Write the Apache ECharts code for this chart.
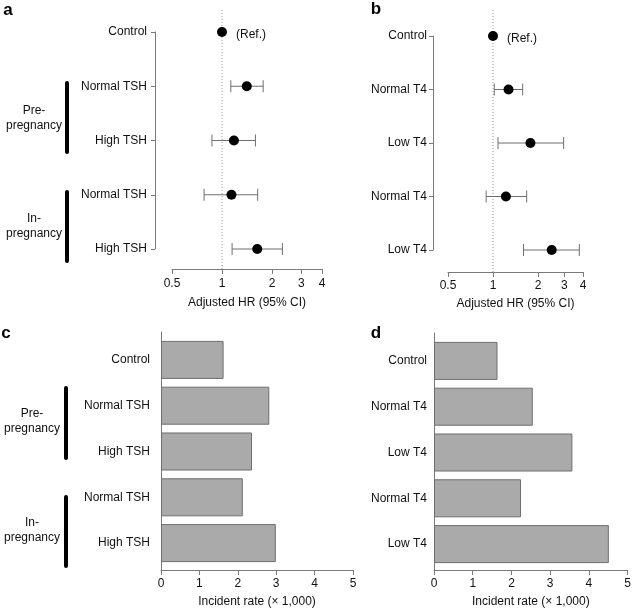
<!DOCTYPE html>
<html><head><meta charset="utf-8">
<script src="https://cdn.jsdelivr.net/npm/echarts@6/dist/echarts.min.js"></script>
<style>html,body{margin:0;padding:0;background:#fff}#c{width:634px;height:609px}</style>
</head><body><div id="c"></div>
<script>
// ---- data ----
const catsTSH = ['Control', 'Normal TSH', 'High TSH', 'Normal TSH', 'High TSH'];
const catsT4 = ['Control', 'Normal T4', 'Low T4', 'Normal T4', 'Low T4'];
const hrTSH = [1.00, 1.41, 1.18, 1.14, 1.63];
const loTSH = [null, 1.13, 0.87, 0.78, 1.15];
const hiTSH = [null, 1.77, 1.59, 1.64, 2.31];
const hrT4 = [1.00, 1.27, 1.78, 1.22, 2.47];
const loT4 = [null, 1.02, 1.08, 0.90, 1.60];
const hiT4 = [null, 1.58, 2.97, 1.68, 3.78];
const rateTSH = [1.63, 2.82, 2.37, 2.13, 2.99];
const rateT4 = [1.62, 2.52, 3.53, 2.22, 4.46];
const hrTicks = [0.5, 1, 2, 3, 4];
const hrMin = 0.5, hrMax = 4, hrRef = 1;
const rateMin = 0, rateMax = 5;
const groups = ['Pre-\npregnancy', 'In-\npregnancy'];
const panelLetters = ['a', 'b', 'c', 'd'];
const refLabel = '(Ref.)';
const hrTitle = 'Adjusted HR (95% CI)';
const rateTitle = 'Incident rate (× 1,000)';

// ---- styling ----
const FONT = "'Liberation Sans', Arial, sans-serif";
const TXT = '#111';
const AXC = '#7a7a7a';

const chart = echarts.init(document.getElementById('c'), null, {renderer: 'canvas'});

function errData(lo, hi) {
  const out = [];
  lo.forEach((v, i) => { if (v != null) out.push([v, hi[i], i]); });
  return out;
}
function errRender(params, api) {
  const a = api.coord([api.value(0), api.value(2)]);
  const b = api.coord([api.value(1), api.value(2)]);
  const h = 6;
  const st = {stroke: '#6f6f6f', lineWidth: 1};
  return {type: 'group', children: [
    {type: 'line', shape: {x1: a[0], y1: a[1], x2: b[0], y2: b[1]}, style: st},
    {type: 'line', shape: {x1: a[0], y1: a[1] - h, x2: a[0], y2: a[1] + h}, style: st},
    {type: 'line', shape: {x1: b[0], y1: b[1] - h, x2: b[0], y2: b[1] + h}, style: st}
  ]};
}
function pointData(hr) {
  return hr.map((v, i) => i === 0 ? {
    value: [v, i],
    label: {show: true, formatter: refLabel, position: 'right', distance: 9, offset: [0, 3],
      color: TXT, fontSize: 12, fontFamily: FONT}
  } : [v, i]);
}
function hiddenX(grid, type) {
  const o = {gridIndex: grid, show: false};
  if (type === 'log') Object.assign(o, {type: 'log', logBase: 2, min: hrMin, max: hrMax});
  else Object.assign(o, {type: 'value', min: rateMin, max: rateMax});
  return o;
}
function hrAxis(grid, labelMargin, nameGap) {
  return {gridIndex: grid, type: 'log', logBase: 2, min: hrMin, max: hrMax,
    axisLine: {show: true, lineStyle: {color: AXC, width: 1}},
    axisTick: {show: true, length: 5, customValues: hrTicks, lineStyle: {color: AXC}},
    axisLabel: {customValues: hrTicks, margin: labelMargin, color: TXT, fontSize: 12, fontFamily: FONT,
      formatter: v => String(v)},
    splitLine: {show: false}, minorTick: {show: false},
    name: hrTitle, nameLocation: 'middle', nameGap: nameGap,
    nameTextStyle: {color: TXT, fontSize: 12, fontFamily: FONT}};
}
function rateAxis(grid, labelMargin, nameGap) {
  return {gridIndex: grid, type: 'value', min: rateMin, max: rateMax, interval: 1,
    axisLine: {show: true, lineStyle: {color: AXC, width: 1}},
    axisTick: {show: true, length: 5, lineStyle: {color: AXC}},
    axisLabel: {margin: labelMargin, color: TXT, fontSize: 12, fontFamily: FONT},
    splitLine: {show: false},
    name: rateTitle, nameLocation: 'middle', nameGap: nameGap,
    nameTextStyle: {color: TXT, fontSize: 12, fontFamily: FONT}};
}
function catAxis(grid, cats, offset, margin, boundaryGap, showLine) {
  return {gridIndex: grid, type: 'category', data: cats, inverse: true, boundaryGap: boundaryGap,
    offset: offset,
    axisLine: {show: showLine, lineStyle: {color: AXC, width: 1}},
    axisTick: {show: showLine, length: 4, lineStyle: {color: AXC}, alignWithLabel: true},
    axisLabel: {margin: margin, color: TXT, fontSize: 12, fontFamily: FONT},
    splitLine: {show: false}};
}
function lineOnlyY(grid) {
  return {gridIndex: grid, type: 'value', min: 0, max: 1,
    axisLine: {show: true, lineStyle: {color: AXC, width: 1}},
    axisTick: {show: false}, axisLabel: {show: false}, splitLine: {show: false}};
}
function hiddenY(grid) {
  return {gridIndex: grid, type: 'value', min: 0, max: 1, show: false, splitLine: {show: false}};
}

const letterStyle = {fill: '#000', fontSize: 17, fontWeight: 'bold', fontFamily: FONT,
  align: 'center', verticalAlign: 'middle'};
const groupStyle = {fill: TXT, fontSize: 12, fontFamily: FONT, align: 'center',
  verticalAlign: 'middle', lineHeight: 15};
const bracket = {stroke: '#000', lineWidth: 4, lineCap: 'round'};

const option = {
  backgroundColor: '#fff',
  animation: false,
  textStyle: {fontFamily: FONT},
  grid: [
    {left: 172, width: 150, top: 32, height: 217},   // 0 a points
    {left: 172, width: 150, top: 10, height: 259},   // 1 a axis
    {left: 448, width: 135, top: 36, height: 214},   // 2 b points
    {left: 448, width: 135, top: 10, height: 262},   // 3 b axis
    {left: 161, width: 192, top: 337, height: 229},  // 4 c bars
    {left: 161, width: 192, top: 332, height: 239},  // 5 c axis
    {left: 434, width: 196, top: 338, height: 229},  // 6 d bars
    {left: 434, width: 196, top: 333, height: 238}   // 7 d axis
  ],
  xAxis: [
    hiddenX(0, 'log'), hrAxis(1, 9, 28),
    hiddenX(2, 'log'), hrAxis(3, 8, 26),
    hiddenX(4, 'val'), rateAxis(5, 8, 26),
    hiddenX(6, 'val'), rateAxis(7, 8, 26)
  ],
  yAxis: [
    catAxis(0, catsTSH, 17, 8, false, true), hiddenY(1),
    catAxis(2, catsT4, 15, 6, false, true), hiddenY(3),
    catAxis(4, catsTSH, 0, 11, true, false), lineOnlyY(5),
    catAxis(6, catsT4, 0, 7, true, false), lineOnlyY(7)
  ],
  series: [
    {type: 'line', xAxisIndex: 1, yAxisIndex: 1, data: [[hrRef, 0], [hrRef, 1]], symbol: 'none',
      lineStyle: {color: '#9a9a9a', width: 1, type: [1, 2]}, z: 1, silent: true},
    {type: 'custom', xAxisIndex: 0, yAxisIndex: 0, data: errData(loTSH, hiTSH),
      encode: {x: [0, 1], y: 2}, renderItem: errRender, z: 2},
    {type: 'scatter', xAxisIndex: 0, yAxisIndex: 0, data: pointData(hrTSH), symbolSize: 10,
      itemStyle: {color: '#000', opacity: 1}, z: 3},

    {type: 'line', xAxisIndex: 3, yAxisIndex: 3, data: [[hrRef, 0], [hrRef, 1]], symbol: 'none',
      lineStyle: {color: '#9a9a9a', width: 1, type: [1, 2]}, z: 1, silent: true},
    {type: 'custom', xAxisIndex: 2, yAxisIndex: 2, data: errData(loT4, hiT4),
      encode: {x: [0, 1], y: 2}, renderItem: errRender, z: 2},
    {type: 'scatter', xAxisIndex: 2, yAxisIndex: 2, data: pointData(hrT4), symbolSize: 10,
      itemStyle: {color: '#000', opacity: 1}, z: 3},

    {type: 'bar', xAxisIndex: 4, yAxisIndex: 4, data: rateTSH, barCategoryGap: '17%',
      itemStyle: {color: '#aaaaaa', borderColor: '#6e6e6e', borderWidth: 1}},
    {type: 'bar', xAxisIndex: 6, yAxisIndex: 6, data: rateT4, barCategoryGap: '17%',
      itemStyle: {color: '#aaaaaa', borderColor: '#6e6e6e', borderWidth: 1}}
  ],
  graphic: [
    {type: 'text', x: 8, y: 10, style: Object.assign({text: panelLetters[0]}, letterStyle)},
    {type: 'text', x: 376, y: 9, style: Object.assign({text: panelLetters[1]}, letterStyle)},
    {type: 'text', x: 6, y: 333, style: Object.assign({text: panelLetters[2]}, letterStyle)},
    {type: 'text', x: 376, y: 333, style: Object.assign({text: panelLetters[3]}, letterStyle)},

    {type: 'line', shape: {x1: 67, y1: 83, x2: 67, y2: 152}, style: bracket},
    {type: 'line', shape: {x1: 67, y1: 192, x2: 67, y2: 261}, style: bracket},
    {type: 'text', x: 34, y: 118, style: Object.assign({text: groups[0]}, groupStyle)},
    {type: 'text', x: 34, y: 226, style: Object.assign({text: groups[1]}, groupStyle)},

    {type: 'line', shape: {x1: 66, y1: 388, x2: 66, y2: 458}, style: bracket},
    {type: 'line', shape: {x1: 66, y1: 497, x2: 66, y2: 566}, style: bracket},
    {type: 'text', x: 32, y: 421, style: Object.assign({text: groups[0]}, groupStyle)},
    {type: 'text', x: 32, y: 530, style: Object.assign({text: groups[1]}, groupStyle)}
  ]
};
chart.setOption(option);
</script>
</body></html>
